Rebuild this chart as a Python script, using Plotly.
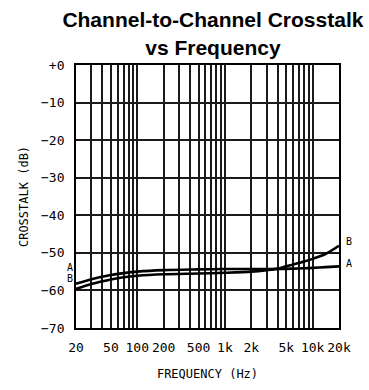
import numpy as np
import plotly.graph_objects as go

# Crosstalk measurements (dB) vs frequency (Hz)
freq_hz = [20, 30, 50, 70, 100, 200, 500, 1000, 2000, 3000, 4000, 6000, 8000, 10000, 14000, 20000]
crosstalk_a = [-58.2, -57.0, -55.9, -55.4, -55.0, -54.6, -54.4, -54.3, -54.3, -54.3, -54.3, -54.2, -54.1, -54.0, -53.8, -53.6]
crosstalk_b = [-59.6, -58.3, -57.1, -56.5, -56.1, -55.7, -55.5, -55.3, -55.0, -54.6, -54.2, -53.1, -52.3, -51.6, -50.3, -48.1]

# Axis ticks
x_labels = {20: "20", 50: "50", 100: "100", 200: "200", 500: "500",
            1000: "1k", 2000: "2k", 5000: "5k", 10000: "10k", 20000: "20k"}
y_ticks = [0, -10, -20, -30, -40, -50, -60, -70]
y_text = ["+0", "\u221210", "\u221220", "\u221230", "\u221240", "\u221250", "\u221260", "\u221270"]

# Log-decade grid: 1..9 per decade from 20 Hz to 20 kHz
grid_x = [m * 10 ** d for d in range(1, 5) for m in range(1, 10) if 20 <= m * 10 ** d <= 20000]
grid_text = [x_labels.get(v, "") for v in grid_x]

tick_font = dict(family="DejaVu Sans Mono", size=13, color="black")
title_font = dict(family="DejaVu Sans Mono", size=12, color="black")

fig = go.Figure()
for ys in (crosstalk_a, crosstalk_b):
    fig.add_trace(go.Scatter(
        x=freq_hz, y=ys, mode="lines",
        line=dict(color="black", width=2.6, shape="spline", smoothing=0.8),
        showlegend=False, hoverinfo="skip",
    ))

# Curve labels at both ends
label_font = dict(family="DejaVu Sans Mono", size=10, color="black")
for name, ys, dy_left, dy_right in (("A", crosstalk_a, 16, 3), ("B", crosstalk_b, 10, 4)):
    fig.add_annotation(x=-0.005, xref="paper", y=ys[0], yref="y", text=name,
                       showarrow=False, xanchor="right", yshift=dy_left, font=label_font)
    fig.add_annotation(x=1.02, xref="paper", y=ys[-1], yref="y", text=name,
                       showarrow=False, xanchor="left", yshift=dy_right, font=label_font)

fig.update_layout(
    width=369, height=390,
    margin=dict(l=76, r=30, t=65, b=62),
    paper_bgcolor="white", plot_bgcolor="white",
    title=dict(
        text="<b>Channel-to-Channel Crosstalk<br>vs Frequency</b>",
        font=dict(family="Liberation Sans", size=21, color="black"),
        x=0.577, xref="container", xanchor="center",
        y=0.93, yref="container", yanchor="top",
    ),
)

fig.update_xaxes(
    type="log", range=[np.log10(20), np.log10(20000)],
    tickvals=grid_x, ticktext=grid_text, tickfont=tick_font,
    ticklabelstandoff=6,
    showgrid=True, gridcolor="#1a1a1a", gridwidth=1.5,
    showline=True, linecolor="black", linewidth=1.8, mirror=True,
    ticks="", ticklen=0, zeroline=False,
    title=dict(text="FREQUENCY (Hz)", font=title_font, standoff=16),
)
fig.update_yaxes(
    range=[-70, 0], tickvals=y_ticks, ticktext=y_text, tickfont=tick_font,
    ticklabelstandoff=7,
    showgrid=True, gridcolor="#1a1a1a", gridwidth=1.5,
    showline=True, linecolor="black", linewidth=1.8, mirror=True,
    ticks="", zeroline=False,
    title=dict(text="CROSSTALK (dB)", font=title_font, standoff=10),
)

fig.write_html("out.html")
